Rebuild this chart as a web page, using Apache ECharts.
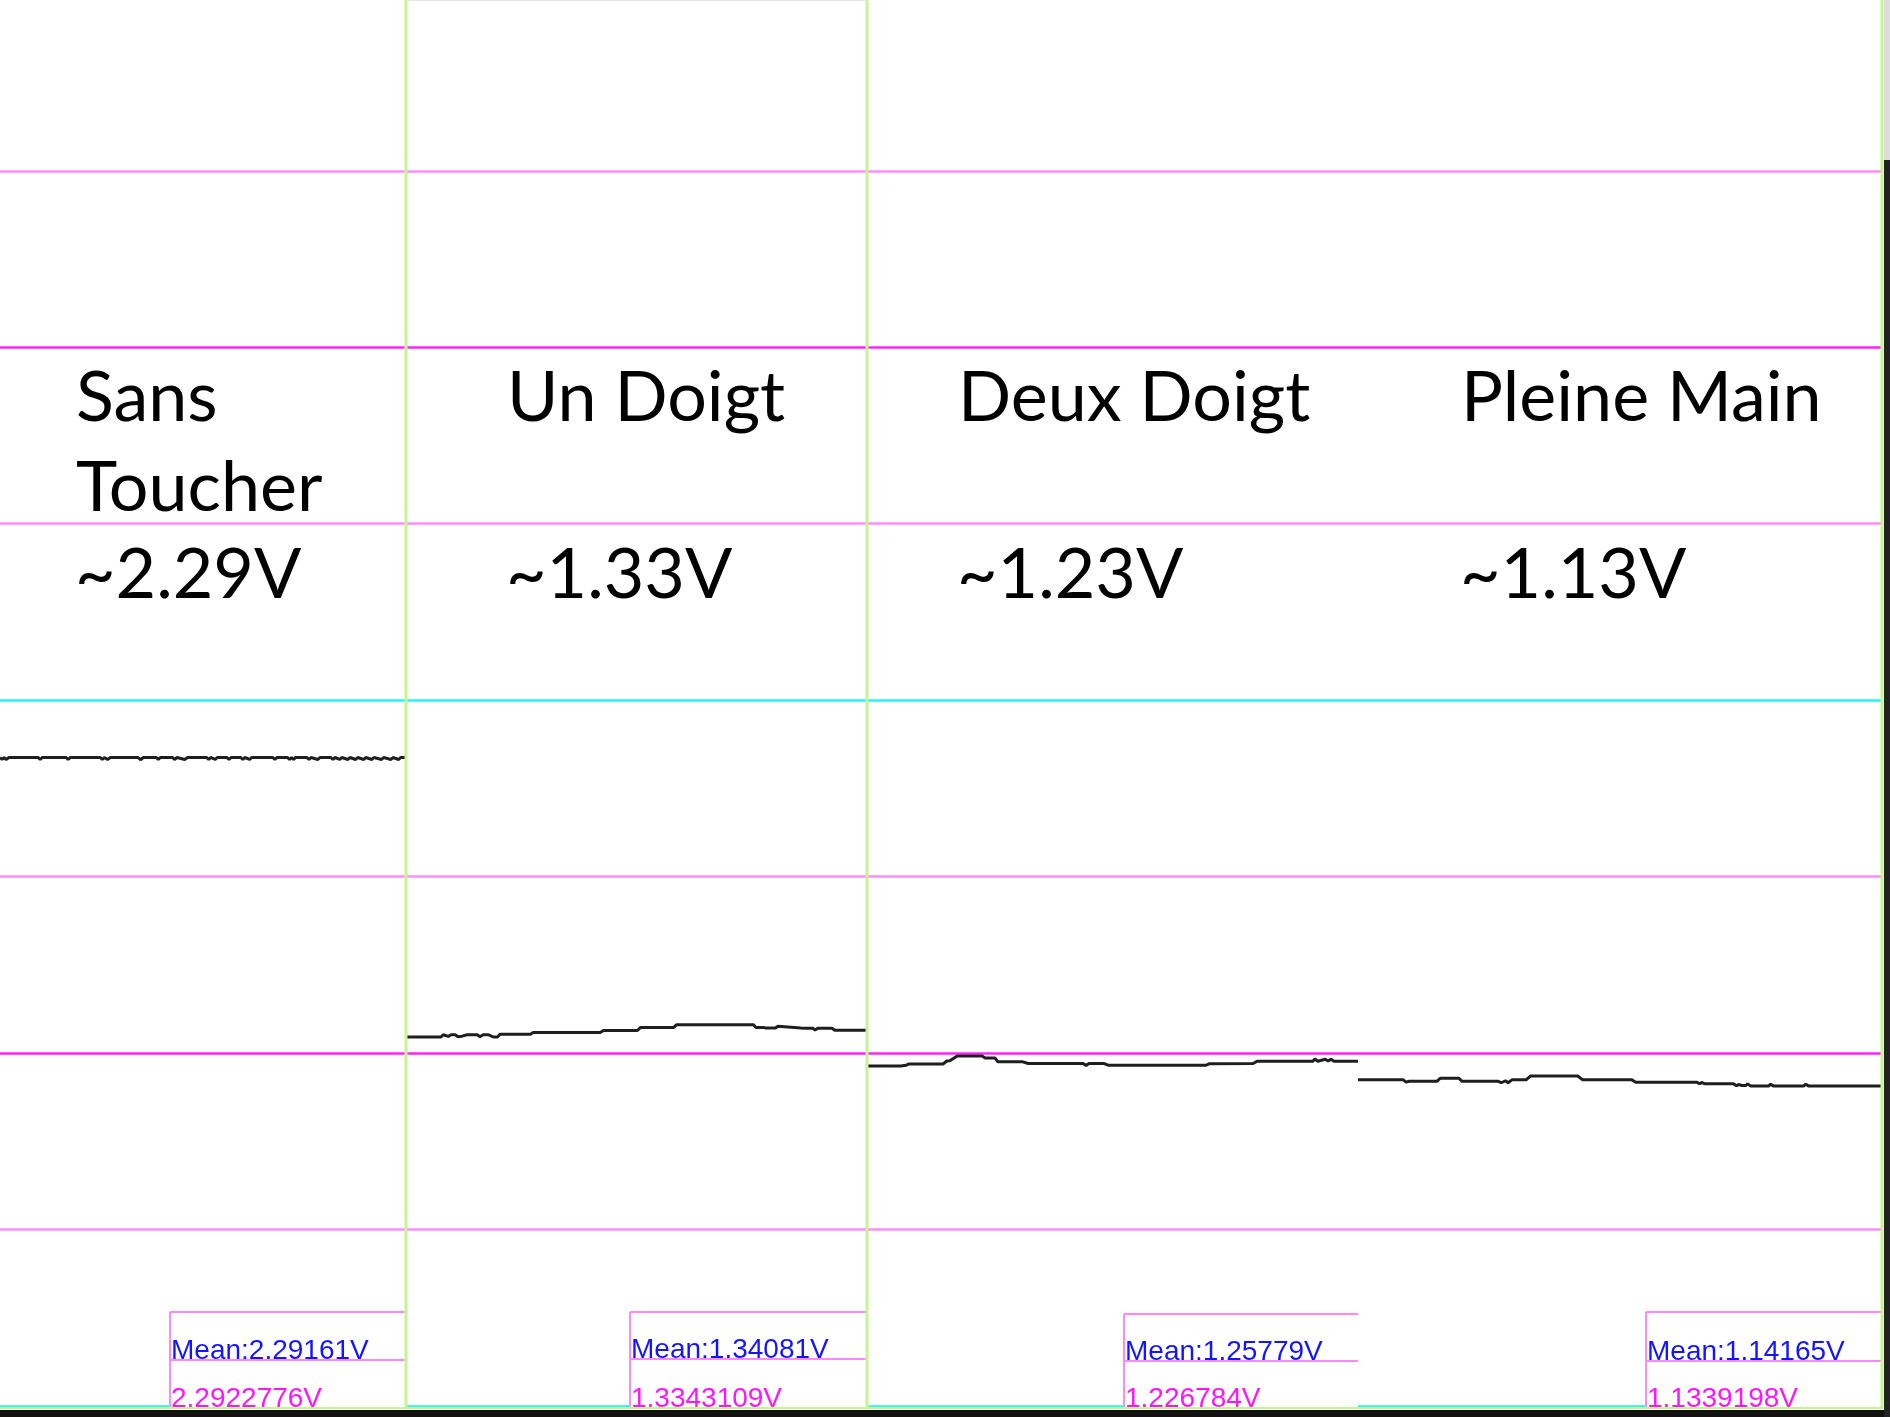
<!DOCTYPE html>
<html lang="fr">
<head>
  <meta charset="UTF-8">
  <title>Capteur tactile - mesures</title>
  <script src="https://cdn.jsdelivr.net/npm/echarts@6/dist/echarts.min.js"></script>
  <style>
    body { margin: 0; background: #fff; }
    #main { width: 1890px; height: 1417px; }
  </style>
</head>
<body>
<div id="main"></div>
<script>
  var sansToucher = [
    [0, 2.297], [0.5, 2.290], [1, 2.297], [1.5, 2.290], [2.2, 2.297], [9.4, 2.297], [9.9, 2.290], [10.4, 2.297],
    [16.3, 2.297], [16.8, 2.290], [17.3, 2.297], [24.7, 2.297], [25.2, 2.290], [25.7, 2.297], [26.5, 2.290], [27.2, 2.297],
    [34, 2.297], [34.6, 2.289], [35.3, 2.297], [38.5, 2.297], [39, 2.290], [39.5, 2.297], [42.5, 2.297], [43, 2.290],
    [43.6, 2.297], [45.5, 2.290], [46.2, 2.297], [50.9, 2.297], [51.4, 2.290], [51.9, 2.297], [53, 2.290], [53.5, 2.297],
    [55.9, 2.297], [56.4, 2.290], [56.9, 2.297], [59.3, 2.297], [59.8, 2.290], [60.3, 2.297], [61.5, 2.290], [62, 2.297],
    [67.2, 2.297], [67.7, 2.290], [68.2, 2.297], [70.8, 2.297], [71.3, 2.290], [71.8, 2.297], [72.3, 2.290], [72.8, 2.297],
    [75.6, 2.297], [76.1, 2.290], [76.6, 2.297], [78.3, 2.290], [78.8, 2.297], [81.5, 2.297], [82, 2.290], [82.5, 2.297],
    [83.7, 2.290], [84.2, 2.297], [85.7, 2.290], [86.2, 2.297], [87.6, 2.290], [88.1, 2.297], [89.6, 2.290], [90.1, 2.297],
    [91.6, 2.290], [92.1, 2.297], [94, 2.290], [94.5, 2.297], [96.3, 2.290], [96.8, 2.297], [98.2, 2.290], [98.7, 2.297],
    [100, 2.297]
  ];
  var unDoigt = [
    [0, 1.307], [7.4, 1.307], [7.9, 1.315], [9.0, 1.309], [9.6, 1.315], [10.5, 1.315], [11.1, 1.308], [12.0, 1.310],
    [13.1, 1.315], [14.2, 1.315], [14.6, 1.308], [15.3, 1.315], [15.9, 1.308], [16.6, 1.315], [17.7, 1.315], [18.8, 1.307],
    [19.7, 1.307], [20.3, 1.317], [26.9, 1.317], [27.5, 1.323], [42.1, 1.323], [42.8, 1.330], [50.2, 1.330], [50.9, 1.341],
    [58.1, 1.341], [58.7, 1.350], [75.5, 1.350], [76.0, 1.341], [76.4, 1.347], [76.9, 1.341], [77.5, 1.341], [78.2, 1.339],
    [80.3, 1.339], [80.8, 1.345], [81.2, 1.339], [85.8, 1.339], [86.2, 1.332], [86.7, 1.338], [88.4, 1.338], [88.9, 1.332],
    [89.5, 1.338], [91.7, 1.338], [92.1, 1.333], [92.6, 1.338], [93.2, 1.331], [100, 1.331]
  ];
  var deuxDoigt = [
    [0, 1.2045], [6.7, 1.2045], [7.1, 1.211], [7.8, 1.207], [8.4, 1.2115], [15.3, 1.2115], [16.1, 1.222], [16.7, 1.223],
    [18.2, 1.240], [23.3, 1.240], [23.9, 1.233], [25.9, 1.233], [26.5, 1.219], [31.6, 1.219], [32.0, 1.222], [32.7, 1.213],
    [43.9, 1.213], [44.5, 1.2065], [45.1, 1.213], [48.2, 1.213], [48.6, 1.218], [49.0, 1.207], [69.0, 1.207], [69.6, 1.212],
    [70.0, 1.213], [78.6, 1.213], [79.4, 1.221], [90.8, 1.221], [91.2, 1.229], [91.8, 1.221], [93.3, 1.228], [93.9, 1.222],
    [94.5, 1.228], [95.1, 1.221], [97.6, 1.221], [98.0, 1.228], [98.4, 1.221], [100, 1.221]
  ];
  var pleineMain = [
    [0, 1.156], [8.6, 1.156], [9.2, 1.147], [9.8, 1.150], [15.1, 1.150], [15.7, 1.161], [19.3, 1.161], [19.9, 1.150],
    [26.8, 1.150], [27.4, 1.145], [28.2, 1.152], [28.7, 1.145], [29.5, 1.156], [32.2, 1.156], [33.0, 1.169], [42.0, 1.169],
    [42.3, 1.162], [42.9, 1.156], [52.3, 1.156], [53.1, 1.147], [64.8, 1.147], [65.3, 1.141], [65.7, 1.146], [66.3, 1.141],
    [71.8, 1.141], [72.4, 1.134], [72.8, 1.139], [73.4, 1.135], [74.1, 1.135], [74.5, 1.141], [75.1, 1.133], [78.5, 1.133],
    [78.9, 1.140], [79.5, 1.133], [85.2, 1.133], [85.6, 1.140], [86.2, 1.133], [100, 1.133]
  ];

  var titres = ['Sans\nToucher', 'Un Doigt', 'Deux Doigt', 'Pleine Main'];
  var approx = ['~2.29V', '~1.33V', '~1.23V', '~1.13V'];
  var moyennes = ['Mean:2.29161V', 'Mean:1.34081V', 'Mean:1.25779V', 'Mean:1.14165V'];
  var curseurs = ['2.2922776V', '1.3343109V', '1.226784V', '1.1339198V'];

  // echelle verticale de l'oscillo : 0 V en bas, 0.625 V/div
  // (le haut de l'ecran est coupe, la ligne des 5 V tombe juste au-dessus)
  var yMin = 0, yMax = 4.98, yPas = 0.625;

  var traces = [sansToucher, unDoigt, deuxDoigt, pleineMain];

  // mise en page des 4 captures collees cote a cote
  var panneaux = [
    {left: 0, width: 406, texte: 76, boite: 170, haut: 1312, milieu: 1360},
    {left: 407, width: 459, texte: 507, boite: 630, haut: 1312, milieu: 1359},
    {left: 868, width: 490, texte: 958, boite: 1124, haut: 1314, milieu: 1361},
    {left: 1358, width: 523, texte: 1461, boite: 1646, haut: 1312, milieu: 1361}
  ];

  var rose = '#ff8cff', magenta = '#ff22ff', cyan = '#22f4ff', vert = '#c4f590';
  // une couleur par ligne de grille, de 0 V vers le haut
  var couleursGrille = [cyan, rose, magenta, rose, cyan, rose, magenta, rose, 'rgba(0,0,0,0)'];

  var grids = [], xAxes = [], yAxes = [], series = [], graphic = [];

  panneaux.forEach(function (p, i) {
    grids.push({left: p.left, width: p.width, top: 0, height: 1406});
    xAxes.push({
      type: 'value', gridIndex: i, min: 0, max: 100,
      axisLine: {show: false}, axisTick: {show: false}, axisLabel: {show: false}, splitLine: {show: false}
    });
    yAxes.push({
      type: 'value', gridIndex: i, min: yMin, max: yMax, interval: yPas,
      axisLine: {show: false}, axisTick: {show: false}, axisLabel: {show: false},
      splitLine: {show: true, lineStyle: {color: couleursGrille, width: 2.5}}
    });
    series.push({
      type: 'line', xAxisIndex: i, yAxisIndex: i, data: traces[i],
      showSymbol: false, silent: true,
      lineStyle: {color: '#1e1e1e', width: 3}
    });

    var droite = p.left + p.width;
    // cadre des mesures en bas a droite
    graphic.push({type: 'rect', z: 50, shape: {x: p.boite, y: p.haut, width: droite - p.boite, height: 1407 - p.haut},
      style: {fill: '#fff'}});
    graphic.push({type: 'line', z: 51, shape: {x1: p.boite, y1: p.haut, x2: droite, y2: p.haut}, style: {stroke: '#ff88ff', lineWidth: 2}});
    graphic.push({type: 'line', z: 51, shape: {x1: p.boite, y1: p.milieu, x2: droite, y2: p.milieu}, style: {stroke: '#ff88ff', lineWidth: 2}});
    graphic.push({type: 'line', z: 51, shape: {x1: p.boite, y1: p.haut, x2: p.boite, y2: 1407}, style: {stroke: '#ff88ff', lineWidth: 2}});
    graphic.push({type: 'text', z: 52, x: p.boite + 1, y: p.milieu - 9,
      style: {text: moyennes[i], fill: '#1414ff', font: '28px "Liberation Sans", Arial, sans-serif', verticalAlign: 'middle'}});
    graphic.push({type: 'text', z: 52, x: p.boite + 1, y: 1399,
      style: {text: curseurs[i], fill: '#ff14ff', font: '28px "Liberation Sans", Arial, sans-serif', verticalAlign: 'middle'}});

    // annotations
    graphic.push({type: 'text', z: 60, x: p.texte, y: 353,
      style: {text: titres[i], fill: '#000', font: '70px Lato, "Open Sans", sans-serif', lineHeight: 90, verticalAlign: 'top'}});
    graphic.push({type: 'text', z: 60, x: p.texte - 1, y: 575,
      style: {text: approx[i], fill: '#000', font: '70px Lato, "Open Sans", sans-serif', verticalAlign: 'middle'}});
  });

  // bordures vertes, bande noire en bas
  [406, 867, 1882].forEach(function (x) {
    graphic.push({type: 'line', z: 70, shape: {x1: x, y1: 0, x2: x, y2: 1409}, style: {stroke: vert, lineWidth: 3}});
  });
  graphic.push({type: 'line', z: 70, shape: {x1: 0, y1: 1408, x2: 1883, y2: 1408}, style: {stroke: vert, lineWidth: 2}});
  graphic.push({type: 'rect', z: 71, shape: {x: 0, y: 1410, width: 1890, height: 7}, style: {fill: '#111'}});
  graphic.push({type: 'rect', z: 71, shape: {x: 1884, y: 160, width: 6, height: 1257}, style: {fill: '#222'}});
  graphic.push({type: 'rect', z: 71, shape: {x: 1884, y: 0, width: 6, height: 160}, style: {fill: '#ddd'}});
  graphic.push({type: 'line', z: 70, shape: {x1: 407, y1: 0.5, x2: 866, y2: 0.5}, style: {stroke: '#e6e6e6', lineWidth: 1}});

  var myChart = echarts.init(document.getElementById('main'));
  myChart.setOption({
    animation: false,
    backgroundColor: '#fff',
    grid: grids,
    xAxis: xAxes,
    yAxis: yAxes,
    series: series,
    graphic: graphic
  });
</script>
</body>
</html>
